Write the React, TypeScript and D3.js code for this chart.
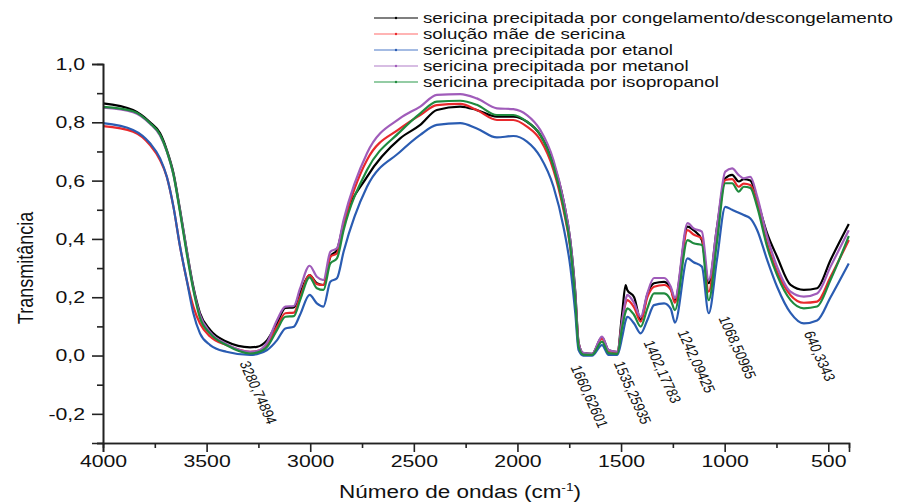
import React, { useEffect, useRef } from "react";
import * as d3 from "d3";

// wavenumber grid (cm-1) the spectra were read on
const wavenumbers = [
  4000, 3855, 3773, 3725, 3692, 3660, 3628, 3596, 3564, 3532, 3483, 3405, 3290, 3257, 3208, 3160, 3120, 3079,
  3049, 3003, 2968, 2936, 2903, 2871, 2839, 2726, 2566, 2469, 2389, 2276, 2196, 2099, 2020, 1954, 1890, 1826,
  1778, 1745, 1721, 1705, 1682, 1640, 1592, 1560, 1518, 1494, 1478, 1470, 1437, 1405, 1373, 1341, 1292, 1260,
  1240, 1179, 1150, 1110, 1077, 1037, 997, 964, 932, 908, 876, 843, 795, 747, 682, 618, 554, 489, 401,
];

const congelamento = [
  0.865, 0.842, 0.8, 0.763, 0.705, 0.626, 0.499, 0.362, 0.236, 0.146, 0.088, 0.048, 0.028, 0.03, 0.053, 0.111, 0.163, 0.165,
  0.214, 0.276, 0.248, 0.242, 0.339, 0.362, 0.454, 0.613, 0.745, 0.791, 0.842, 0.854, 0.842, 0.819, 0.819, 0.802, 0.757, 0.659,
  0.533, 0.396, 0.22, 0.045, 0.008, 0.006, 0.062, 0.018, 0.012, 0.15, 0.242, 0.225, 0.2, 0.122, 0.21, 0.248, 0.253, 0.23,
  0.19, 0.442, 0.43, 0.396, 0.248, 0.44, 0.608, 0.62, 0.597, 0.605, 0.6, 0.533, 0.419, 0.339, 0.242, 0.225, 0.231, 0.328, 0.451,
];

const solucaoMae = [
  0.787, 0.768, 0.722, 0.671, 0.613, 0.51, 0.373, 0.259, 0.168, 0.11, 0.065, 0.036, 0.013, 0.015, 0.036, 0.099, 0.145, 0.147,
  0.2, 0.276, 0.245, 0.242, 0.339, 0.351, 0.448, 0.671, 0.779, 0.825, 0.859, 0.863, 0.842, 0.808, 0.808, 0.785, 0.74, 0.636,
  0.5, 0.37, 0.2, 0.04, 0.006, 0.005, 0.058, 0.015, 0.012, 0.12, 0.18, 0.19, 0.165, 0.116, 0.2, 0.236, 0.242, 0.225,
  0.181, 0.43, 0.415, 0.402, 0.219, 0.42, 0.602, 0.605, 0.579, 0.59, 0.585, 0.522, 0.385, 0.288, 0.207, 0.181, 0.185, 0.27, 0.396,
];

const etanol = [
  0.797, 0.774, 0.728, 0.677, 0.613, 0.51, 0.373, 0.259, 0.145, 0.076, 0.036, 0.013, 0.002, 0.005, 0.019, 0.053, 0.093, 0.099,
  0.14, 0.208, 0.179, 0.168, 0.253, 0.265, 0.356, 0.579, 0.699, 0.757, 0.791, 0.797, 0.779, 0.748, 0.753, 0.734, 0.682, 0.579,
  0.442, 0.305, 0.146, 0.019, 0.0, 0.0, 0.036, 0.002, 0.002, 0.065, 0.12, 0.133, 0.11, 0.076, 0.122, 0.173, 0.179, 0.16,
  0.113, 0.333, 0.32, 0.305, 0.145, 0.33, 0.51, 0.5, 0.49, 0.482, 0.47, 0.43, 0.328, 0.236, 0.146, 0.11, 0.12, 0.2, 0.316,
];

const metanol = [
  0.85, 0.835, 0.795, 0.755, 0.7, 0.62, 0.495, 0.36, 0.23, 0.14, 0.08, 0.04, 0.013, 0.015, 0.045, 0.122, 0.168, 0.17,
  0.23, 0.308, 0.27, 0.259, 0.356, 0.368, 0.465, 0.694, 0.814, 0.854, 0.894, 0.897, 0.882, 0.848, 0.845, 0.825, 0.774, 0.67,
  0.533, 0.396, 0.214, 0.043, 0.009, 0.006, 0.065, 0.019, 0.013, 0.122, 0.19, 0.208, 0.18, 0.133, 0.214, 0.266, 0.266, 0.236,
  0.197, 0.454, 0.436, 0.425, 0.259, 0.442, 0.631, 0.642, 0.619, 0.608, 0.613, 0.545, 0.408, 0.305, 0.219, 0.202, 0.213, 0.305, 0.43,
];

const isopropanol = [
  0.853, 0.838, 0.797, 0.758, 0.7, 0.62, 0.49, 0.35, 0.225, 0.129, 0.075, 0.036, 0.007, 0.01, 0.03, 0.088, 0.133, 0.135,
  0.19, 0.268, 0.231, 0.225, 0.316, 0.333, 0.43, 0.636, 0.768, 0.831, 0.871, 0.874, 0.86, 0.825, 0.825, 0.802, 0.757, 0.648,
  0.51, 0.373, 0.19, 0.03, 0.003, 0.002, 0.048, 0.008, 0.006, 0.099, 0.15, 0.162, 0.139, 0.099, 0.162, 0.213, 0.213, 0.19,
  0.156, 0.396, 0.385, 0.379, 0.19, 0.39, 0.591, 0.591, 0.562, 0.579, 0.575, 0.51, 0.373, 0.276, 0.19, 0.162, 0.168, 0.26, 0.41,
];

const seriesNames = [
  "sericina precipitada por congelamento/descongelamento",
  "solução mãe de sericina",
  "sericina precipitada por etanol",
  "sericina precipitada por metanol",
  "sericina precipitada por isopropanol",
];
const seriesValues = [congelamento, solucaoMae, etanol, metanol, isopropanol];
const seriesColors = ["#000000", "#e8282c", "#2a5cb2", "#a05cba", "#1f8a3e"];
const legendColors = ["#000000", "#ff6a6a", "#4a78c8", "#b07cc8", "#2a9a4a"];

const xMajorTicks = [4000, 3500, 3000, 2500, 2000, 1500, 1000, 500];
const yMajorTicks = [-0.2, 0, 0.2, 0.4, 0.6, 0.8, 1.0];

// peak labels: text plus the spot (wavenumber, transmittance) where each label starts
const peakLabels = [
  { text: "3280,74894", w: 3343, v: -0.026 },
  { text: "1660,62601", w: 1745, v: -0.039 },
  { text: "1535,25935", w: 1537, v: -0.026 },
  { text: "1402,17783", w: 1393, v: 0.046 },
  { text: "1242,09425", w: 1229, v: 0.081 },
  { text: "1068,50965", w: 1031, v: 0.129 },
  { text: "640,3343", w: 620, v: 0.077 },
];

const W = 906;
const H = 503;
const margin = { top: 64, left: 103, right: 57, bottom: 60 };
const SX = 1.25; // the original picture is stretched horizontally
const font = "'Liberation Sans', Arial, sans-serif";

const x = d3.scaleLinear().domain([4000, 400]).range([margin.left, W - margin.right]);
const y = d3.scaleLinear().domain([-0.3, 1.0]).range([H - margin.bottom, margin.top]);

const fmt = (d: number) => d.toFixed(1).replace(".", ",");

export default function App() {
  const xAxisRef = useRef<SVGGElement>(null);
  const yAxisRef = useRef<SVGGElement>(null);

  useEffect(() => {
    document.body.style.margin = "0";

    const gx = d3.select(xAxisRef.current);
    gx.selectAll("*").remove();
    gx.append("g").call(
      d3.axisBottom(x).tickValues(d3.range(3750, 400, -500)).tickSize(5).tickFormat(() => "")
    );
    gx.append("g").call(
      d3.axisBottom(x).tickValues(xMajorTicks).tickSize(9).tickPadding(3).tickFormat((d) => String(d))
    );
    gx.selectAll(".domain").attr("stroke", "#222").attr("stroke-width", 1.6);
    gx.selectAll(".tick line").attr("stroke", "#222").attr("stroke-width", 1.6);
    gx.selectAll("text")
      .attr("transform", `scale(${SX},1)`)
      .style("font-family", font)
      .style("font-size", "17px")
      .attr("fill", "#111");

    const gy = d3.select(yAxisRef.current);
    gy.selectAll("*").remove();
    gy.append("g").call(
      d3.axisLeft(y).tickValues([-0.3, -0.1, 0.1, 0.3, 0.5, 0.7, 0.9]).tickSize(6).tickFormat(() => "")
    );
    gy.append("g").call(
      d3.axisLeft(y).tickValues(yMajorTicks).tickSize(11).tickFormat((d) => fmt(d as number))
    );
    gy.selectAll(".domain").attr("stroke", "#222").attr("stroke-width", 1.6);
    gy.selectAll(".tick line").attr("stroke", "#222").attr("stroke-width", 1.6);
    gy.selectAll("text")
      .attr("x", -18 / SX)
      .attr("transform", `scale(${SX},1)`)
      .style("font-family", font)
      .style("font-size", "17px")
      .attr("fill", "#111");
  }, []);

  const line = d3
    .line<number>()
    .x((_, i) => x(wavenumbers[i]))
    .y((d) => y(d))
    .curve(d3.curveMonotoneX);

  return (
    <svg width={W} height={H} style={{ display: "block", background: "#fff" }}>
      {seriesValues.map((vals, i) => (
        <path
          key={seriesNames[i]}
          d={line(vals) || ""}
          fill="none"
          stroke={seriesColors[i]}
          strokeWidth={2.2}
          strokeLinejoin="round"
        />
      ))}

      <g ref={xAxisRef} transform={`translate(0,${y(-0.3)})`} />
      <g ref={yAxisRef} transform={`translate(${x(4000)},0)`} />

      {peakLabels.map((p) => (
        <text
          key={p.text}
          transform={`translate(${x(p.w)},${y(p.v)}) scale(${SX},1) rotate(70)`}
          fontFamily={font}
          fontSize={12.5}
          fill="#111"
        >
          {p.text}
        </text>
      ))}

      <g transform={`translate(33,268) scale(${SX},1) rotate(-90)`}>
        <text textAnchor="middle" fontFamily={font} fontSize={18} fill="#111">
          Transmitância
        </text>
      </g>

      <g transform={`translate(460,498) scale(${SX},1)`}>
        <text textAnchor="middle" fontFamily={font} fontSize={18} fill="#111">
          Número de ondas (cm
          <tspan fontSize={11} dy={-7}>-1</tspan>
          <tspan dy={7}>)</tspan>
        </text>
      </g>

      {seriesNames.map((name, i) => {
        const ly = 18 + i * 16;
        return (
          <g key={name}>
            <line x1={374} x2={418} y1={ly} y2={ly} stroke={legendColors[i]} strokeWidth={1.2} />
            <circle cx={396} cy={ly} r={1.2} fill={seriesColors[i]} />
            <g transform={`translate(423,${ly + 5}) scale(${SX},1)`}>
              <text fontFamily={font} fontSize={15} fill="#111">
                {name}
              </text>
            </g>
          </g>
        );
      })}
    </svg>
  );
}
